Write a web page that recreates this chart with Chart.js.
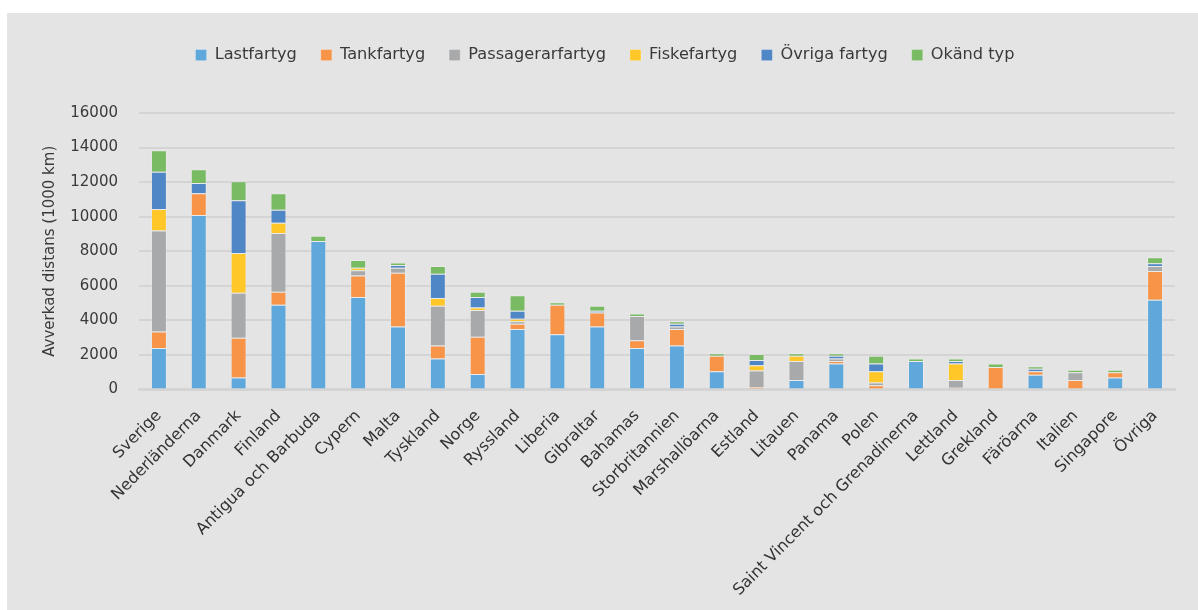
<!DOCTYPE html>
<html><head><meta charset="utf-8">
<script src="https://cdn.jsdelivr.net/npm/chart.js@4/dist/chart.umd.min.js"></script>
<style>
html,body{margin:0;padding:0;background:#fff;}
#wrap{position:absolute;left:7px;top:13px;width:1191px;height:597px;background:#e4e4e4;}
canvas{display:block;}
</style></head>
<body><div id="wrap"><canvas id="c" width="1191" height="597"></canvas></div>
<script>
const categories = ["Sverige","Nederländerna","Danmark","Finland","Antigua och Barbuda","Cypern","Malta","Tyskland","Norge","Ryssland","Liberia","Gibraltar","Bahamas","Storbritannien","Marshallöarna","Estland","Litauen","Panama","Polen","Saint Vincent och Grenadinerna","Lettland","Grekland","Färöarna","Italien","Singapore","Övriga"];
const lastfartyg =       [2400,10100,700,4900,8600,5350,3650,1800,900,3500,3200,3650,2400,2550,1050,0,550,1500,0,1650,0,0,850,0,700,5200];
const tankfartyg =       [950,1250,2300,750,0,1250,3100,750,2150,300,1700,800,450,950,900,150,0,150,250,0,100,1300,200,550,300,1650];
const passagerarfartyg = [5850,0,2600,3400,0,300,300,2300,1550,150,0,0,1400,150,0,950,1100,150,150,0,450,0,0,450,0,300];
const fiskefartyg =      [1250,0,2300,600,0,150,0,450,150,150,0,0,0,0,0,300,300,0,650,0,950,0,0,0,0,0];
const ovrigaFartyg =     [2150,600,3050,750,0,0,150,1400,600,450,0,100,0,150,0,300,0,150,450,0,150,0,150,0,0,150];
const okandTyp =         [1250,800,1100,950,300,450,150,450,300,900,150,300,150,150,150,350,150,150,450,150,150,200,150,150,150,350];
const yTicks = [0,2000,4000,6000,8000,10000,12000,14000,16000];

const seriesNames = ["Lastfartyg","Tankfartyg","Passagerarfartyg","Fiskefartyg","Övriga fartyg","Okänd typ"];
const seriesData = [lastfartyg,tankfartyg,passagerarfartyg,fiskefartyg,ovrigaFartyg,okandTyp];
const colors = ["#5ea8dc","#f79448","#a7a9aa","#ffc828","#4f86c6","#78bb62"];

const legendFix = {
  id:'legendFix',
  beforeInit(chart){
    const lg = chart.legend;
    if(lg){ const f = lg.fit; lg.fit = function(){ f.call(this); this.height = 90; }; }
  },
  afterLayout(chart){
    const lg = chart.legend;
    if(lg){ lg.left += 14; lg.right += 14; }
  }
};

new Chart(document.getElementById('c'), {
  type:'bar',
  data:{
    labels:categories,
    datasets:seriesNames.map((n,i)=>({
      label:n, data:seriesData[i], backgroundColor:colors[i],
      borderColor:'rgba(255,255,255,0.22)', borderWidth:1,
      categoryPercentage:0.8, barPercentage:0.5
    }))
  },
  options:{
    responsive:false, animation:false, devicePixelRatio:1,
    layout:{padding:{top:10,left:0,right:23,bottom:0}},
    plugins:{
      legend:{position:'top',align:'center',
        labels:{font:{family:'DejaVu Sans',size:16.2},color:'#3a3a3a',boxWidth:11,boxHeight:11,padding:24}},
      tooltip:{enabled:false}
    },
    scales:{
      x:{stacked:true,
        grid:{display:false,drawTicks:false},
        border:{display:true,color:'#d4d4d4',width:3},
        ticks:{font:{family:'DejaVu Sans',size:16},color:'#333',minRotation:45,maxRotation:45,padding:17,autoSkip:false},
        afterFit(s){ s.height = 220.5; }
      },
      y:{stacked:true,min:0,max:16000,
        afterBuildTicks(s){ s.ticks = yTicks.map(v=>({value:v})); },
        grid:{color:'#d4d4d4',lineWidth:2,drawTicks:false},
        border:{display:false},
        ticks:{font:{family:'DejaVu Sans',size:15},color:'#3a3a3a',padding:21,callback:(v)=>String(v)},
        title:{display:true,text:'Avverkad distans (1000 km)',font:{family:'DejaVu Sans',size:15},color:'#3a3a3a',padding:{top:34,bottom:0}},
        afterFit(s){ s.width = 132; }
      }
    }
  },
  plugins:[legendFix]
});
</script></body></html>
